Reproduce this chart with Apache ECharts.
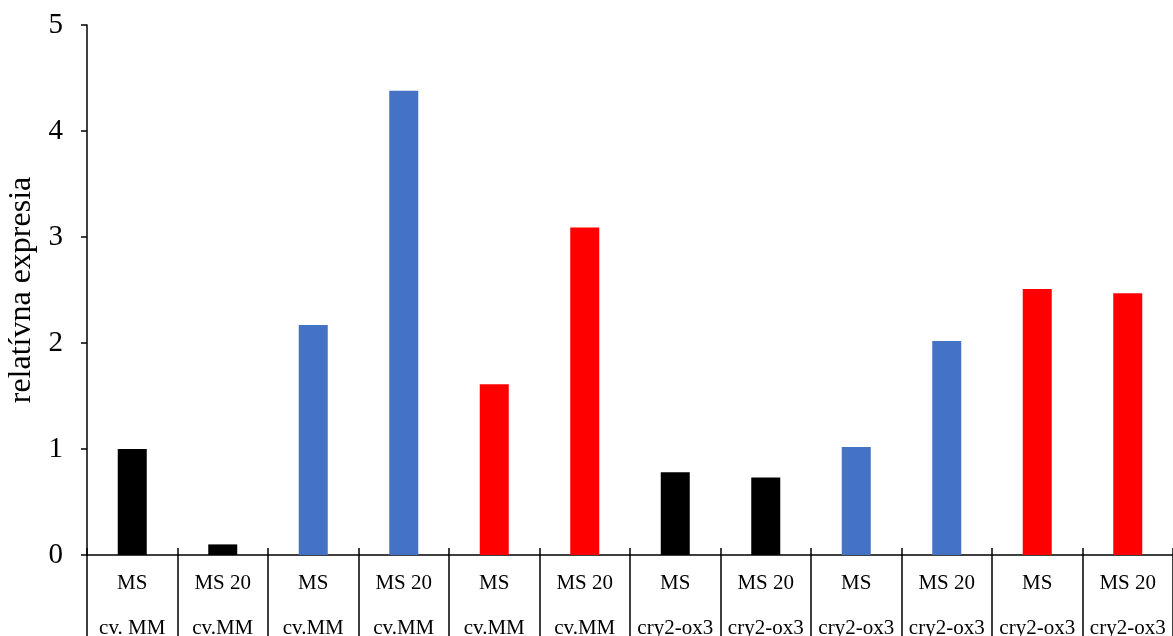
<!DOCTYPE html>
<html><head><meta charset="utf-8">
<script src="https://cdn.jsdelivr.net/npm/echarts@6/dist/echarts.min.js"></script>
<style>html,body{margin:0;padding:0;background:#fff;overflow:hidden}#c{position:absolute;left:0;top:0;width:1173px;height:636px}</style>
</head><body><div id="c"></div>
<script>
const treatments = ['MS','MS 20','MS','MS 20','MS','MS 20','MS','MS 20','MS','MS 20','MS','MS 20'];
const genotypes = ['cv. MM','cv.MM','cv.MM','cv.MM','cv.MM','cv.MM','cry2-ox3','cry2-ox3','cry2-ox3','cry2-ox3','cry2-ox3','cry2-ox3'];
const values = [1.00, 0.10, 2.17, 4.38, 1.61, 3.09, 0.78, 0.73, 1.02, 2.02, 2.51, 2.47];
const barColors = ['#000000','#000000','#4472C4','#4472C4','#FF0000','#FF0000','#000000','#000000','#4472C4','#4472C4','#FF0000','#FF0000'];
const yTicks = [0,1,2,3,4,5];

const categories = treatments.map((t,i)=> t + '\n' + genotypes[i]);
const font = 'Liberation Serif, Times New Roman, serif';
const chart = echarts.init(document.getElementById('c'), null, {width:1173, height:636, renderer:'canvas'});
chart.setOption({
  animation:false,
  grid:{left:87,right:0,top:25,bottom:81,containLabel:false,outerBoundsMode:'none'},
  xAxis:[{
    type:'category', data:categories, boundaryGap:true,
    axisLine:{show:true,lineStyle:{color:'#000',width:1.5}},
    axisTick:{show:true,interval:0,length:95,lineStyle:{color:'#000',width:1.5}},
    axisLabel:{interval:0,margin:6,fontFamily:font,fontSize:21,color:'#000',lineHeight:45},
    splitLine:{show:false}
  },{
    type:'category', data:categories, boundaryGap:true, position:'bottom',
    axisLine:{show:false},
    axisTick:{show:true,inside:true,interval:0,length:7,lineStyle:{color:'#000',width:1.5}},
    axisLabel:{show:false}, splitLine:{show:false}
  }],
  yAxis:{
    type:'value', min:yTicks[0], max:yTicks[yTicks.length-1], interval:1,
    name:'relatívna expresia', nameLocation:'middle', nameGap:33, nameRotate:90,
    nameTextStyle:{fontFamily:font,fontSize:32,color:'#000'},
    axisLine:{show:true,lineStyle:{color:'#000',width:1.5}},
    axisTick:{show:true,length:6,lineStyle:{color:'#000',width:1.5}},
    axisLabel:{fontFamily:font,fontSize:29,color:'#000',margin:24},
    splitLine:{show:false}
  },
  series:[{
    type:'bar', xAxisIndex:0, barWidth:29,
    data: values.map((v,i)=>({value:v,itemStyle:{color:barColors[i]}}))
  }]
});
</script></body></html>
